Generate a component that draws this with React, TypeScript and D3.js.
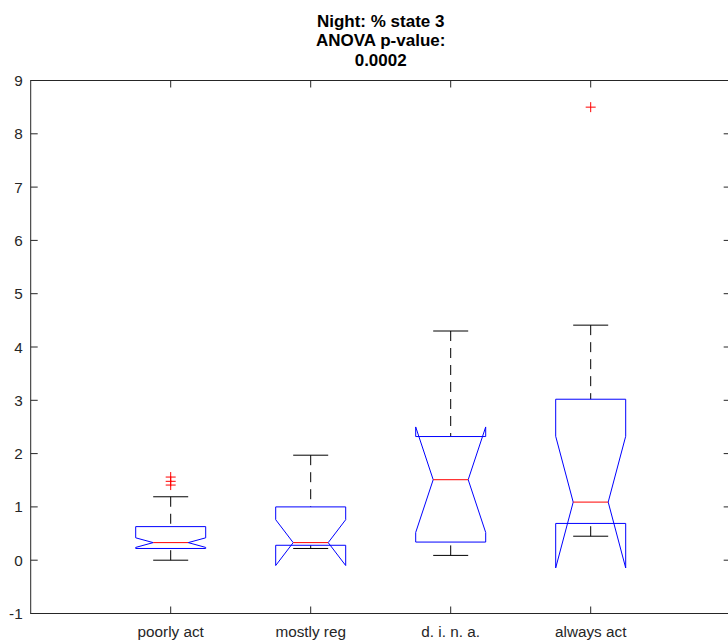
import React from "react";
import * as d3 from "d3";

// Groups along the x axis
const categories = ["poorly act", "mostly reg", "d. i. n. a.", "always act"];

// Box statistics per group (% time in state 3 at night)
const upperAdjacent = [1.19, 1.97, 4.3, 4.41];
const upperQuartile = [0.63, 1.0, 2.32, 3.02];
const medians = [0.33, 0.33, 1.51, 1.09];
const lowerQuartile = [0.22, 0.28, 0.34, 0.69];
const lowerAdjacent = [0.0, 0.22, 0.09, 0.45];
// Half height of the median confidence notch
const notchHalf = [0.09, 0.43, 0.99, 1.235];
// Points beyond the whiskers
const outliers: number[][] = [[1.41, 1.48, 1.56], [], [], [8.5]];

const yTicks = [-1, 0, 1, 2, 3, 4, 5, 6, 7, 8, 9];
const titleLines = ["Night: % state 3", "ANOVA p-value:", "0.0002"];

const W = 728;
const H = 642;
const left = 30.7;
const right = 730.7;
const top = 80.5;
const bottom = 613.5;

const FONT = "'Liberation Sans', Arial, Helvetica, sans-serif";
const AXIS = "#262626";

export default function App() {
  const x = d3.scaleLinear().domain([0, 5]).range([left, right]);
  const y = d3.scaleLinear().domain([-1, 9]).range([bottom, top]);
  const unit = x(1) - x(0);
  const boxHalf = 0.25 * unit;
  const notchIn = 0.125 * unit;
  const capHalf = 0.125 * unit;
  const tickLen = 7;

  const boxPath = (i: number) => {
    const cx = x(i + 1);
    const nLo = medians[i] - notchHalf[i];
    const nHi = medians[i] + notchHalf[i];
    const pts: [number, number][] = [
      [cx - boxHalf, y(lowerQuartile[i])],
      [cx - boxHalf, y(nLo)],
      [cx - notchIn, y(medians[i])],
      [cx - boxHalf, y(nHi)],
      [cx - boxHalf, y(upperQuartile[i])],
      [cx + boxHalf, y(upperQuartile[i])],
      [cx + boxHalf, y(nHi)],
      [cx + notchIn, y(medians[i])],
      [cx + boxHalf, y(nLo)],
      [cx + boxHalf, y(lowerQuartile[i])],
      [cx - boxHalf, y(lowerQuartile[i])],
    ];
    return d3.line()(pts) || "";
  };

  return (
    <svg
      width={W}
      height={H}
      style={{ position: "fixed", left: 0, top: 0, background: "#fff" }}
      fontFamily={FONT}
    >
      <rect x={0} y={0} width={W} height={H} fill="#fff" />

      {/* title */}
      {titleLines.map((t, i) => (
        <text
          key={t}
          x={(left + right) / 2}
          y={27 + i * 19.4}
          textAnchor="middle"
          fontSize={17}
          fontWeight="bold"
          fill="#000"
        >
          {t}
        </text>
      ))}

      {/* axes box */}
      <rect
        x={left}
        y={top}
        width={right - left}
        height={bottom - top}
        fill="none"
        stroke={AXIS}
        strokeWidth={1}
      />

      {/* y ticks, both sides */}
      {yTicks.map((v) => (
        <g key={v}>
          <line x1={left} x2={left + tickLen} y1={y(v)} y2={y(v)} stroke={AXIS} />
          <line x1={right} x2={right - tickLen} y1={y(v)} y2={y(v)} stroke={AXIS} />
          <text
            x={left - 8}
            y={y(v)}
            dy="0.36em"
            textAnchor="end"
            fontSize={15.3}
            fill="#262626"
          >
            {v}
          </text>
        </g>
      ))}

      {/* x ticks, top and bottom */}
      {categories.map((c, i) => (
        <g key={c}>
          <line x1={x(i + 1)} x2={x(i + 1)} y1={bottom} y2={bottom - tickLen} stroke={AXIS} />
          <line x1={x(i + 1)} x2={x(i + 1)} y1={top} y2={top + tickLen} stroke={AXIS} />
          <text
            x={x(i + 1)}
            y={bottom + 23}
            textAnchor="middle"
            fontSize={15.3}
            fill="#262626"
          >
            {c}
          </text>
        </g>
      ))}

      {/* boxes */}
      {categories.map((c, i) => {
        const cx = x(i + 1);
        return (
          <g key={"box" + c}>
            {/* whiskers, drawn from the cap toward the box */}
            <line
              x1={cx}
              x2={cx}
              y1={y(upperAdjacent[i])}
              y2={y(upperQuartile[i])}
              stroke="#000"
              strokeDasharray="10,7"
            />
            <line
              x1={cx}
              x2={cx}
              y1={y(lowerAdjacent[i])}
              y2={y(lowerQuartile[i])}
              stroke="#000"
              strokeDasharray="10,7"
            />
            <line
              x1={cx - capHalf}
              x2={cx + capHalf}
              y1={y(upperAdjacent[i])}
              y2={y(upperAdjacent[i])}
              stroke="#000"
            />
            <line
              x1={cx - capHalf}
              x2={cx + capHalf}
              y1={y(lowerAdjacent[i])}
              y2={y(lowerAdjacent[i])}
              stroke="#000"
            />
            <path d={boxPath(i)} fill="none" stroke="#0000ff" strokeWidth={1} />
            <line
              x1={cx - notchIn}
              x2={cx + notchIn}
              y1={y(medians[i])}
              y2={y(medians[i])}
              stroke="#ff0000"
              strokeWidth={1}
            />
            {outliers[i].map((v, k) => (
              <g key={k} stroke="#ff0000" strokeWidth={1}>
                <line x1={cx - 5} x2={cx + 5} y1={y(v)} y2={y(v)} />
                <line x1={cx} x2={cx} y1={y(v) - 5} y2={y(v) + 5} />
              </g>
            ))}
          </g>
        );
      })}
    </svg>
  );
}
